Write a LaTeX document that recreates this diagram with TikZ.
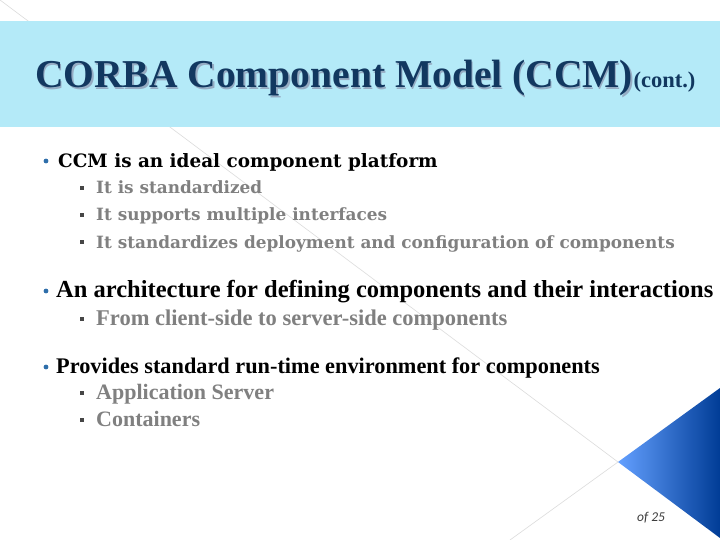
\documentclass[tikz,border=0pt]{standalone}
\usepackage{fontspec}
\setmainfont{Liberation Serif}
\newfontfamily\dejavuserif{DejaVu Serif}
\newfontfamily\carlito{Carlito}
\usetikzlibrary{positioning}

\definecolor{bandblue}{RGB}{180,234,248}
\definecolor{titlenavy}{RGB}{18,56,96}
\definecolor{titleshadow}{RGB}{150,172,195}
\definecolor{dotblue}{RGB}{46,110,170}
\definecolor{subgray}{RGB}{128,128,128}
\definecolor{sqgray}{RGB}{70,70,70}
\definecolor{faintline}{RGB}{220,220,220}
\definecolor{tipblue}{RGB}{100,160,255}
\definecolor{midblue}{RGB}{10,105,235}
\definecolor{deepblue}{RGB}{0,60,150}
\definecolor{pagegray}{RGB}{60,60,60}

\begin{document}
\begin{tikzpicture}[x=1pt,y=-1pt,
    txt/.style={anchor=base west,inner sep=0pt},
    titletext/.style={txt,font=\bfseries\fontsize{39.5}{46}\selectfont},
    heada/.style={txt,font=\dejavuserif\bfseries\fontsize{18.4}{22}\selectfont},
    suba/.style={txt,text=subgray,font=\dejavuserif\bfseries\fontsize{16.9}{20}\selectfont},
    head/.style={txt,font=\bfseries\fontsize{23.4}{27}\selectfont},
    sub/.style={txt,text=subgray,font=\bfseries\fontsize{22}{26}\selectfont},
    dot/.style={circle,fill=dotblue,inner sep=0pt,minimum size=4.8pt},
    sq/.style={rectangle,fill=sqgray,inner sep=0pt,minimum size=3.6pt}]
    \useasboundingbox (0,0) rectangle (720,540);
    \fill [white] (0,0) rectangle (720,540);
    % background
    \draw [faintline,line width=0.6pt] (0,0) -- (618,462) -- (510,540);
    \fill [bandblue] (0,21) rectangle (720,127);
    \shade [left color=tipblue,middle color=midblue,right color=deepblue]
        (618,462) -- (720,388) -- (720,538) -- cycle;
    % title
    \node [titletext,text=titleshadow] (titleshade) at (36.3,89.3) {CORBA Component Model (CCM)};
    \node [titletext,text=titlenavy] (title) at (35,88) {CORBA Component Model (CCM)};
    \node [txt,text=titlenavy,font=\bfseries\fontsize{22.5}{26}\selectfont] (cont) at (title.base east) {(cont.)};
    % first item
    \node [dot] (dotA) at (46,161) {};
    \node [heada] (itemA) at (58,168) {CCM is an ideal component platform};
    \node [sq] (sqA1) at (82,188) {};
    \node [suba] (subA1) at (96,194) {It is standardized};
    \node [sq] (sqA2) at (82,215) {};
    \node [suba] (subA2) at (96,221) {It supports multiple interfaces};
    \node [sq] (sqA3) at (82,242) {};
    \node [suba] (subA3) at (96,248) {It standardizes deployment and configuration of components};
    % second item
    \node [dot] (dotB) at (46,291) {};
    \node [head,font=\bfseries\fontsize{24.5}{28}\selectfont] (itemB) at (56,297) {An architecture for defining components and their interactions};
    \node [sq] (sqB1) at (82,319) {};
    \node [sub,font=\bfseries\fontsize{22.5}{26}\selectfont] (subB1) at (96,325) {From client-side to server-side components};
    % third item
    \node [dot] (dotC) at (46,367) {};
    \node [head,font=\bfseries\fontsize{22.3}{27}\selectfont] (itemC) at (56,373) {Provides standard run-time environment for components};
    \node [sq] (sqC1) at (82,393) {};
    \node [sub] (subC1) at (96,399) {Application Server};
    \node [sq] (sqC2) at (82,420) {};
    \node [sub] (subC2) at (96,426) {Containers};
    % page number
    \node [txt,text=pagegray,font=\carlito\itshape\fontsize{13.5}{16}\selectfont] (page) at (637,521) {of 25};
\end{tikzpicture}
\end{document}
